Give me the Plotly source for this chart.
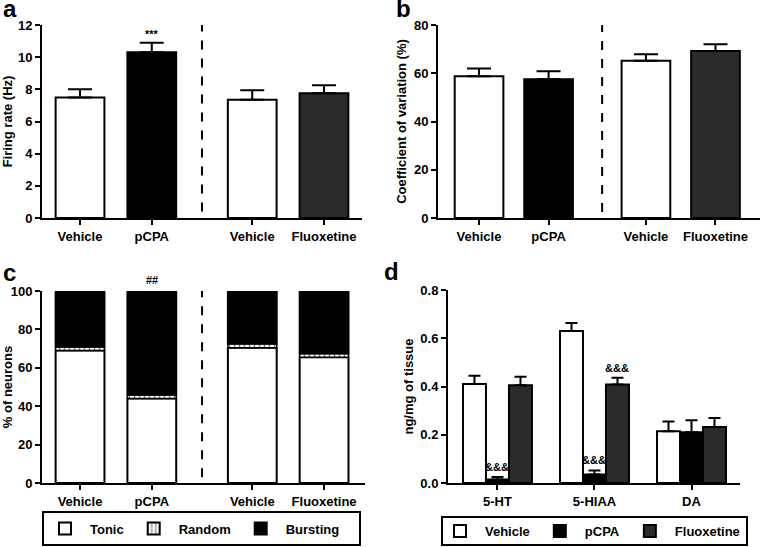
import plotly.graph_objects as go

# Panel a: firing rate (Hz)
groups_ab = ["Vehicle", "pCPA", "Vehicle", "Fluoxetine"]
pos_ab = [1, 2, 3.4, 4.4]
rate_mean = [7.5, 10.3, 7.35, 7.75]
rate_sem = [0.5, 0.6, 0.6, 0.5]

# Panel b: coefficient of variation (%)
cv_mean = [58.8, 57.5, 65.2, 69.2]
cv_sem = [3.2, 3.3, 2.7, 2.8]

# Panel c: firing pattern (% of neurons)
tonic = [69, 44, 70.5, 65.5]
random_ = [2, 2, 2, 2]
bursting = [29, 54, 27.5, 32.5]

# Panel d: tissue levels (ng/mg)
analytes = ["5-HT", "5-HIAA", "DA"]
pos_d = [1, 2, 3]
vehicle_d = [0.41, 0.63, 0.215]
vehicle_d_sem = [0.035, 0.033, 0.04]
pcpa_d = [0.015, 0.035, 0.21]
pcpa_d_sem = [0.01, 0.017, 0.05]
fluox_d = [0.405, 0.408, 0.232]
fluox_d_sem = [0.035, 0.028, 0.037]

FONT = "Liberation Sans, Arial, sans-serif"
FLUOX = "#2b2b2b"
bar_colors = ["white", "black", "white", FLUOX]

W, H = 761, 547


def dom_x(p0, p1):
    return [p0 / W, p1 / W]


def dom_y(top, bottom):
    return [1 - bottom / H, 1 - top / H]


def err(vals, w=12):
    return dict(type="data", array=vals, arrayminus=[0] * len(vals), symmetric=False,
                color="black", thickness=2, width=w)


fig = go.Figure()

# a
fig.add_bar(x=pos_ab, y=rate_mean, width=0.68, marker=dict(color=bar_colors, line=dict(color="black", width=2)),
            error_y=err(rate_sem), xaxis="x", yaxis="y", showlegend=False)
# b
fig.add_bar(x=pos_ab, y=cv_mean, width=0.7, marker=dict(color=bar_colors, line=dict(color="black", width=2)),
            error_y=err(cv_sem), xaxis="x2", yaxis="y2", showlegend=False)

# c (stacked by hand via base)
base_random = tonic
base_burst = [t + r for t, r in zip(tonic, random_)]
fig.add_bar(x=pos_ab, y=tonic, width=0.68, name="Tonic", legend="legend",
            marker=dict(color="white", line=dict(color="black", width=2)), xaxis="x3", yaxis="y3")
fig.add_bar(x=pos_ab, y=random_, base=base_random, width=0.68, name="Random", legend="legend",
            marker=dict(color="white", line=dict(color="black", width=1.5),
                        pattern=dict(shape="|", fgcolor="black", bgcolor="white", size=5, solidity=0.3)),
            xaxis="x3", yaxis="y3")
fig.add_bar(x=pos_ab, y=bursting, base=base_burst, width=0.68, name="Bursting", legend="legend",
            marker=dict(color="black", line=dict(color="black", width=2)), xaxis="x3", yaxis="y3")

# d (grouped by offset)
bw = 0.237
for i, (nm, vals, sem, col) in enumerate([("Vehicle", vehicle_d, vehicle_d_sem, "white"),
                                          ("pCPA", pcpa_d, pcpa_d_sem, "black"),
                                          ("Fluoxetine", fluox_d, fluox_d_sem, FLUOX)]):
    fig.add_bar(x=pos_d, y=vals, width=bw, offset=-1.5 * bw + i * bw, name=nm, legend="legend2",
                marker=dict(color=col, line=dict(color="black", width=2)),
                error_y=err(sem, 6), xaxis="x4", yaxis="y4")

axis_common = dict(showline=True, linecolor="black", linewidth=2, ticks="outside", tickcolor="black",
                   tickwidth=2, ticklen=5, showgrid=False, zeroline=False, automargin=False, tickangle=0,
                   tickfont=dict(family=FONT, size=13, color="black", weight="bold"))

title_font = dict(family=FONT, size=13, color="black", weight="bold")
leg_font = dict(family=FONT, size=13, color="black", weight="bold")

fig.update_layout(
    width=W, height=H, margin=dict(l=0, r=0, t=0, b=0, autoexpand=False),
    paper_bgcolor="white", plot_bgcolor="white", barmode="overlay",
    font=dict(family=FONT, color="black"),
    xaxis=dict(axis_common, domain=dom_x(42, 362), range=[0.47, 4.93], tickvals=pos_ab, ticktext=groups_ab,
               anchor="y"),
    yaxis=dict(axis_common, domain=dom_y(25, 218), range=[0, 12], tickvals=[0, 2, 4, 6, 8, 10, 12], anchor="x",
               title=dict(text="Firing rate (Hz)", font=title_font, standoff=4)),
    xaxis2=dict(axis_common, domain=dom_x(438, 760), range=[0.41, 5.04], tickvals=pos_ab, ticktext=groups_ab,
                anchor="y2"),
    yaxis2=dict(axis_common, domain=dom_y(25, 218), range=[0, 80], tickvals=[0, 20, 40, 60, 80], anchor="x2",
                title=dict(text="Coefficient of variation (%)", font=title_font, standoff=4)),
    xaxis3=dict(axis_common, domain=dom_x(42, 365), range=[0.47, 4.97], tickvals=pos_ab, ticktext=groups_ab,
                anchor="y3"),
    yaxis3=dict(axis_common, domain=dom_y(291, 483), range=[0, 100], tickvals=[0, 20, 40, 60, 80, 100],
                anchor="x3", title=dict(text="% of neurons", font=title_font, standoff=4)),
    xaxis4=dict(axis_common, domain=dom_x(448, 740), range=[0.49, 3.5], tickvals=pos_d, ticktext=analytes,
                anchor="y4"),
    yaxis4=dict(axis_common, domain=dom_y(290, 483), range=[0, 0.8], tickvals=[0, 0.2, 0.4, 0.6, 0.8],
                tickformat=".1f", anchor="x4",
                title=dict(text="ng/mg of tissue", font=title_font, standoff=4)),
    legend=dict(orientation="h", x=40 / W, y=1 - 528.5 / H, xanchor="left", yanchor="middle", itemwidth=40,
                borderwidth=0, bgcolor="rgba(0,0,0,0)", itemsizing="constant", font=leg_font),
    legend2=dict(orientation="h", x=435 / W, y=1 - 531 / H, xanchor="left", yanchor="middle", itemwidth=40,
                 borderwidth=0, bgcolor="rgba(0,0,0,0)", itemsizing="constant", font=leg_font),
)

# legend frames
fig.add_shape(type="rect", xref="paper", yref="paper", x0=43 / W, x1=360 / W, y0=1 - 545 / H, y1=1 - 512 / H,
              line=dict(color="black", width=2), fillcolor="rgba(0,0,0,0)")
fig.add_shape(type="rect", xref="paper", yref="paper", x0=442 / W, x1=747 / W, y0=1 - 545 / H, y1=1 - 517 / H,
              line=dict(color="black", width=2), fillcolor="rgba(0,0,0,0)")

# dashed separators
for xr, yr, xpos, y0, y1 in [("x", "y", 2.7, 0.4, 12), ("x2", "y2", 2.77, 2.5, 80), ("x3", "y3", 2.7, 3, 100)]:
    fig.add_shape(type="line", xref=xr, yref=yr, x0=xpos, x1=xpos, y0=y0, y1=y1,
                  line=dict(color="black", width=2, dash="dash"))

# significance marks
ann_font = dict(family=FONT, size=11, color="black", weight="bold")
fig.add_annotation(x=pos_ab[1], y=rate_mean[1] + rate_sem[1], xref="x", yref="y", text="***",
                   showarrow=False, yanchor="bottom", yshift=1, font=ann_font)
fig.add_annotation(x=pos_ab[1], y=100, xref="x3", yref="y3", text="##",
                   showarrow=False, yanchor="bottom", yshift=3, font=ann_font)
for xi, vals, sem, off in [(0, pcpa_d, pcpa_d_sem, 0), (1, pcpa_d, pcpa_d_sem, 0), (1, fluox_d, fluox_d_sem, 1)]:
    fig.add_annotation(x=pos_d[xi] + off * bw, y=vals[xi] + sem[xi], xref="x4", yref="y4", text="&&&",
                       showarrow=False, yanchor="bottom", yshift=2, font=ann_font)

# panel letters
for txt, px, py in [("a", 1, 24), ("b", 394, 24), ("c", 1, 288), ("d", 382, 287)]:
    fig.add_annotation(x=px / W, y=1 - py / H, xref="paper", yref="paper", text=txt, showarrow=False,
                       xanchor="left", yanchor="bottom", font=dict(family=FONT, size=24, color="black", weight="bold"))

# page has a default 8px body margin; drop it so the figure fills the window
fig.write_html("out.html", config={"displayModeBar": False},
               post_script="document.body.style.margin = '0';")
